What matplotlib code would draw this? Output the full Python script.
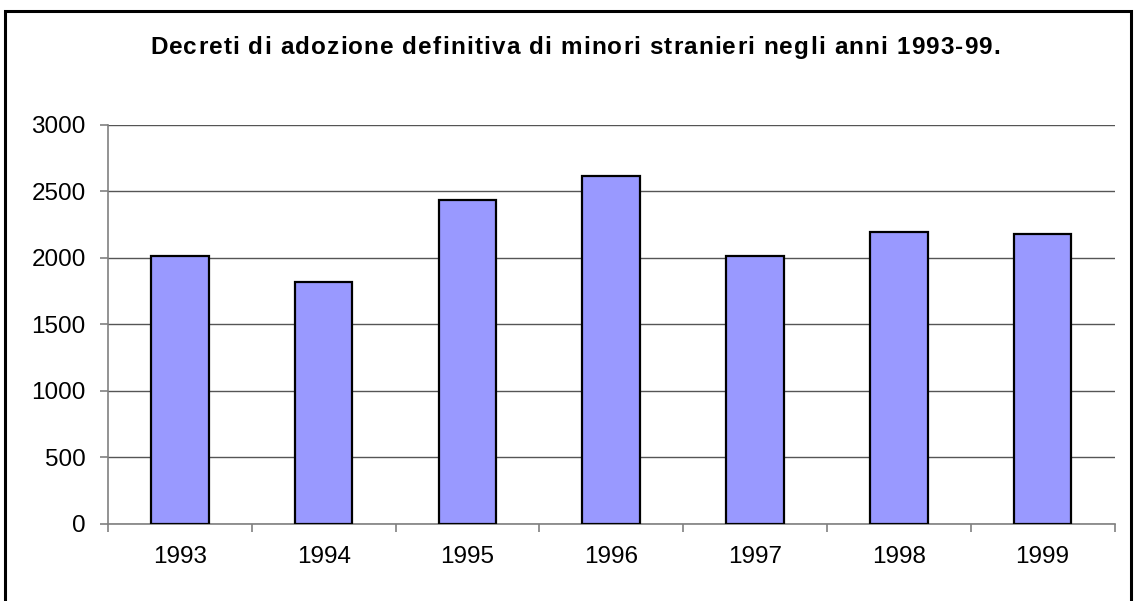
import matplotlib.pyplot as plt
from matplotlib.patches import Rectangle
import numpy as np

# ------------- DATA ------------- #
years = ['1993', '1994', '1995', '1996', '1997', '1998', '1999']
decreti = [2010, 1815, 2432, 2612, 2010, 2190, 2176]
y_ticks = [0, 500, 1000, 1500, 2000, 2500, 3000]
title = 'Decreti di adozione definitiva di minori stranieri negli anni 1993-99.'

# ------------- STYLE ------------- #
plt.rcParams['font.family'] = ['Liberation Sans', 'DejaVu Sans']
bar_color = '#9999FF'
axis_gray = '#808080'
W, H = 1134, 601

fig = plt.figure(figsize=(W / 100, H / 100), dpi=100)
ax = fig.add_axes([108 / W, 1 - 524 / H, (1114.5 - 108) / W, (524 - 124.5) / H])

x = np.arange(len(years))
ax.bar(x, decreti, width=0.4, color=bar_color, edgecolor='black', linewidth=1.6, zorder=3)

# grid and axes
ax.set_ylim(0, 3000)
ax.set_xlim(-0.5, len(years) - 0.5)
ax.set_yticks(y_ticks)
ax.yaxis.grid(True, color='#555555', linewidth=1.0, zorder=0)
ax.set_axisbelow(True)

for side in ['top', 'right']:
    ax.spines[side].set_visible(False)
for side in ['left', 'bottom']:
    ax.spines[side].set_color(axis_gray)
    ax.spines[side].set_linewidth(1.2)

ax.set_xticks(x)
ax.set_xticklabels(years)
ax.set_xticks(np.arange(-0.5, len(years)), minor=True)
ax.tick_params(axis='x', which='major', length=0, pad=16, labelsize=17.5)
ax.tick_params(axis='x', which='minor', length=6, width=1.2, color=axis_gray, direction='out')
ax.tick_params(axis='y', length=6, width=1.2, color=axis_gray, pad=10, labelsize=17.5)

# title, drawn char by char to get the slightly wide letter spacing of the original
renderer = fig.canvas.get_renderer()
title_kw = dict(fontsize=17.5, fontweight='bold', va='baseline', ha='left')
def text_width(s):
    t = fig.text(0, 0, s + '|', **title_kw)
    w = t.get_window_extent(renderer).width
    t.remove()
    return w
bar_w = text_width('')
x_left, x_right = 150, 1000
natural = text_width(title) - bar_w
spacing = max(0, (x_right - x_left - natural) / (len(title) - 1))
for i, ch in enumerate(title):
    if ch == ' ':
        continue
    xpos = x_left + text_width(title[:i]) - bar_w + i * spacing
    fig.text(xpos / W, 1 - 54 / H, ch, **title_kw)

# outer frame
fig.patches.append(Rectangle((5 / W, -0.1), (1131 - 5) / W, 1.1 - 11 / H,
                             transform=fig.transFigure, fill=False,
                             edgecolor='black', linewidth=2.2))

plt.savefig('out.png', dpi=100)
